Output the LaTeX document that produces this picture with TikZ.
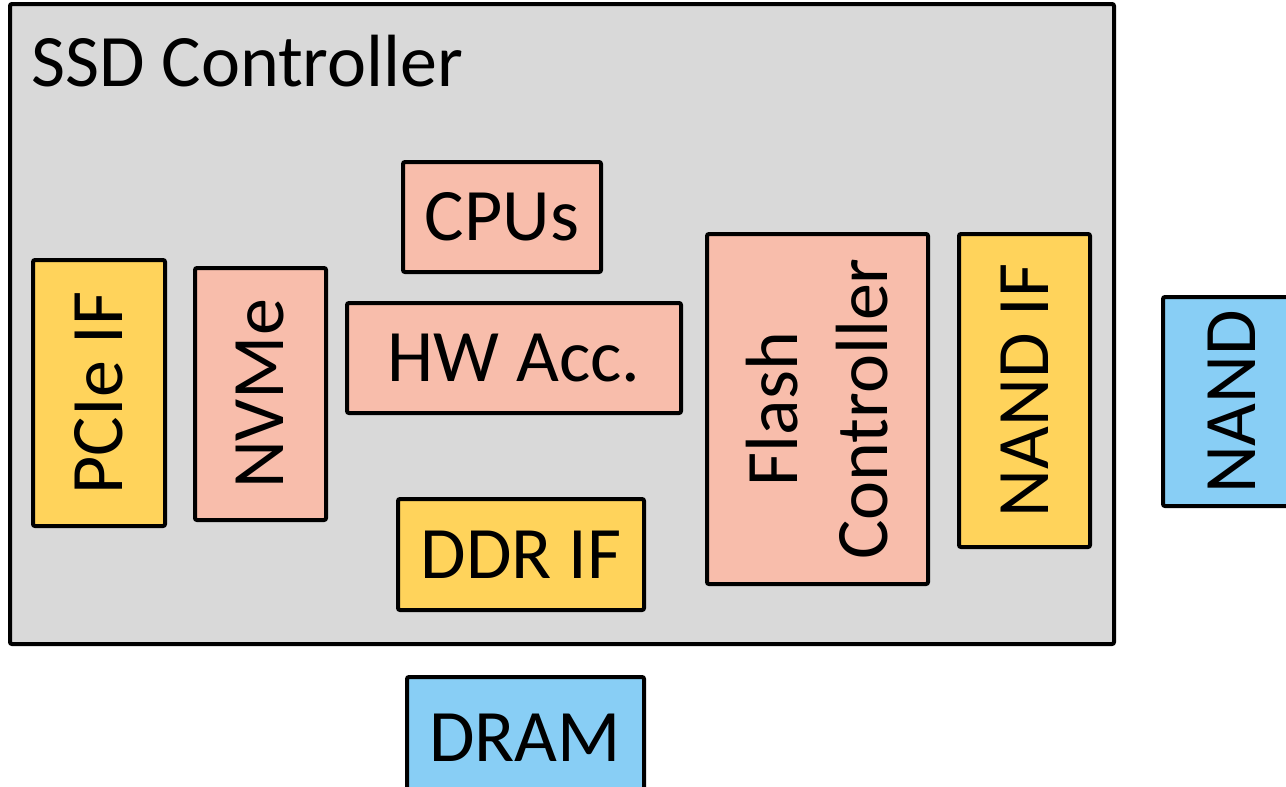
\documentclass[tikz,border=0pt]{standalone}
\usepackage{fontspec}
\setmainfont{Carlito}
\usetikzlibrary{fit}
\definecolor{chipgray}{HTML}{D9D9D9}
\definecolor{corepink}{HTML}{F8BDAB}
\definecolor{ifyellow}{HTML}{FFD35B}
\definecolor{memblue}{HTML}{88CEF5}
\tikzset{
  block/.style={draw=black, line width=2pt, rounded corners=1pt, inner sep=0pt},
  core/.style={block, fill=corepink},
  iface/.style={block, fill=ifyellow},
  mem/.style={block, fill=memblue},
  lbl/.style={font=\fontsize{37}{45}\selectfont, inner sep=0pt, align=center},
}
\begin{document}
\begin{tikzpicture}[x=0.5pt, y=-0.5pt]
  \useasboundingbox (0,0) rectangle (1286,787);
  \clip (0,0) rectangle (1286,787);

  % controller die
  \node[block, fill=chipgray, fit={(10,4) (1114,644)}] (ssd) {};
  \node[lbl, anchor=base west] (ssd-t) at (31,86) {SSD Controller};

  % internal blocks
  \node[core, fit={(403,162) (601,272)}] (cpu) {};
  \node[lbl] (cpu-t) at (cpu.center) {CPUs};

  \node[iface, fit={(33,260) (165,526)}] (pcie) {};
  \node[lbl, rotate=90] (pcie-t) at (pcie.center) {PCIe IF};

  \node[core, fit={(195,268) (326,520)}] (nvme) {};
  \node[lbl, rotate=90] (nvme-t) at (nvme.center) {NVMe};

  \node[core, fit={(347,303) (681,413)}] (hwacc) {};
  \node[lbl] (hwacc-t) at (hwacc.center) {HW Acc.};

  \node[iface, fit={(398,499) (644,610)}] (ddrif) {};
  \node[lbl] (ddrif-t) at (ddrif.center) {DDR IF};

  \node[core, fit={(707,234) (928,584)}] (flash) {};
  \node[lbl, rotate=90] (flash-t) at (flash.center) {Flash\\Controller};

  \node[iface, fit={(959,234) (1090,547)}] (nandif) {};
  \node[lbl, rotate=90] (nandif-t) at (nandif.center) {NAND IF};

  % external memories
  \node[mem, fit={(1163,297) (1302,506)}] (nand) {};
  \node[lbl, rotate=90] (nand-t) at (1232,402) {NAND};

  \node[mem, fit={(407,677) (644,800)}] (dram) {};
  \node[lbl] (dram-t) at (525,738) {DRAM};
\end{tikzpicture}
\end{document}
